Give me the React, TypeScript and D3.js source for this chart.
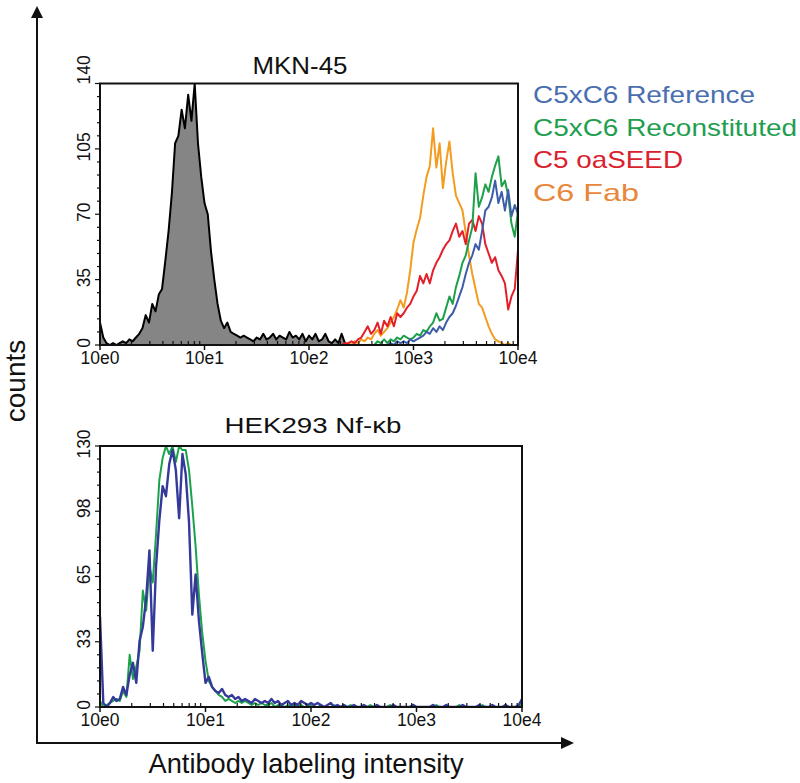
import React from "react";
import * as d3 from "d3";

// ---------- data (counts per channel; channel width = 1/32 decade) ----------
const BINS_PER_DECADE = 32;
const xTickLabels = ["10e0", "10e1", "10e2", "10e3", "10e4"];
const xTickValues = [1, 10, 100, 1000, 10000];

const mknYTicks = [0, 35, 70, 105, 140];
const hekYTicks = [0, 33, 65, 98, 130];

const legendNames = ["C5xC6 Reference", "C5xC6 Reconstituted", "C5 oaSEED", "C6 Fab"];
const legendColors = ["#4a6eb0", "#1f9e4f", "#d9222e", "#e8873a"];

// MKN-45
const mknUnstainedStart = 0;
const mknUnstained = [
  12, 4, 1, 0, 1, 0, 1, 2, 1, 3, 2, 4, 6, 9, 16, 12, 22, 18, 27, 30,
  45, 61, 81, 108, 112, 126, 116, 134, 120, 140, 108, 90, 76, 70, 50, 35, 22, 13, 9, 12,
  7, 6, 5, 4, 5, 4, 3, 2, 4, 3, 6, 3, 4, 6, 3, 5, 4, 3, 7, 4,
  5, 3, 6, 2, 5, 3, 6, 2, 3, 6, 2, 1, 3, 1, 6, 1, 0,
];
const mknFabStart = 75;
const mknFab = [
  0, 1, 0, 2, 1, 3, 2, 4, 3, 6, 8, 5, 7, 9, 12, 15, 19, 24, 20, 28,
  40, 55, 62, 68, 80, 90, 96, 116, 95, 108, 84, 98, 109, 92, 80, 76, 72, 60, 48, 38,
  30, 22, 20, 15, 10, 6, 3, 2, 1, 0, 1, 0, 0, 0,
];
const mknOaSeedStart = 74;
const mknOaSeed = [
  0, 1, 1, 2, 1, 3, 4, 7, 10, 6, 8, 12, 6, 13, 10, 15, 10, 17, 15, 17,
  20, 22, 26, 29, 37, 33, 38, 33, 40, 44, 47, 51, 54, 56, 61, 65, 58, 61, 54, 65,
  67, 61, 69, 65, 54, 49, 44, 47, 40, 37, 33, 19, 26, 30, 51,
];
const mknReconStart = 84;
const mknRecon = [
  0, 2, 1, 3, 1, 3, 2, 4, 3, 5, 4, 3, 4, 6, 5, 8, 7, 10, 12, 17,
  13, 14, 20, 26, 22, 31, 37, 44, 48, 56, 63, 92, 74, 79, 86, 82, 90, 96, 101, 85,
  88, 80, 65, 58, 72,
];
const mknRefStart = 88;
const mknRef = [
  0, 1, 0, 2, 1, 2, 1, 3, 2, 3, 4, 5, 7, 6, 9, 7, 10, 8, 12, 15,
  17, 21, 26, 31, 38, 44, 48, 54, 51, 61, 72, 74, 79, 88, 76, 82, 72, 83, 69, 75,
  70,
];

// HEK293 Nf-kb
const hekRefStart = 0;
const hekRef = [
  45, 2, 0, 2, 5, 3, 4, 10, 6, 16, 22, 12, 33, 40, 54, 78, 28, 70, 93, 110,
  105, 121, 128, 118, 94, 126, 116, 92, 46, 66, 43, 27, 12, 15, 10, 8, 7, 9, 6, 5,
  6, 4, 5, 3, 4, 3, 2, 4, 3, 2, 3, 2, 4, 2, 3, 1, 2, 3, 1, 2,
  1, 3, 2, 1, 2, 1, 2, 1, 0, 1, 2, 0, 1, 0, 1, 0, 0, 1, 0, 0,
  1, 0, 0, 0, 1, 0, 0, 0, 0, 1, 0, 0, 0, 0, 0, 1, 0, 0, 0, 0,
  0, 1, 0, 0, 0, 1, 0, 0, 0, 0, 1, 0, 0, 0, 0, 1, 0, 0, 0, 1,
  0, 0, 0, 1, 0, 0, 0, 1, 4,
];
const hekReconStart = 0;
const hekRecon = [
  3, 0, 1, 2, 3, 4, 3, 8, 5, 26, 14, 20, 28, 58, 48, 70, 62, 86, 113, 124,
  130, 126, 130, 122, 130, 128, 128, 118, 100, 80, 56, 37, 23, 13, 10, 8, 6, 5, 3, 4,
  3, 2, 3, 2, 3, 2, 1, 2, 1, 2, 1, 1, 2, 0, 1, 1, 0, 1, 0, 1,
  0, 1, 0, 0, 1, 0, 0, 1, 0, 0, 0, 1, 0, 0, 0, 0, 1, 0, 0, 0,
  0, 0, 1, 0, 0, 0, 0, 0, 1, 0, 0, 0, 0, 0, 0, 1, 0, 0, 0, 0,
  0, 0, 1, 0, 0, 0, 0, 0, 0, 1, 0, 0, 0, 0, 0, 0, 1, 0, 0, 0,
  0, 0, 0, 1, 0, 0, 0, 0, 2,
];

// ---------- helpers ----------
type Pt = [number, number];
const toPoints = (start: number, vals: number[]): Pt[] =>
  vals.map((v, i) => [Math.pow(10, (start + i) / BINS_PER_DECADE), v]);

const FONT = "'Liberation Sans', Arial, Helvetica, sans-serif";

interface Series {
  pts: Pt[];
  color: string;
  width: number;
  filled?: boolean;
}

function Panel(props: {
  id: string;
  left: number;
  right: number;
  top: number;
  bottom: number;
  yMax: number;
  yTicks: number[];
  series: Series[];
  topLabelUp?: boolean;
}) {
  const { id, left, right, top, bottom, yMax, yTicks, series, topLabelUp } = props;
  const x = d3.scaleLog().domain([1, 10000]).range([left, right]);
  const y = d3.scaleLinear().domain([0, yMax]).range([bottom, top]);
  const line = d3
    .line<Pt>()
    .x((d) => x(d[0]))
    .y((d) => y(Math.min(d[1], yMax)));
  const area = d3
    .area<Pt>()
    .x((d) => x(d[0]))
    .y0(y(0))
    .y1((d) => y(Math.min(d[1], yMax)));

  const minorX: number[] = [];
  for (let dec = 0; dec < 4; dec++) {
    for (let m = 2; m <= 9; m++) minorX.push(m * Math.pow(10, dec));
  }
  const step = yMax / 20;
  const minorY = d3.range(0, 21).map((i) => i * step);

  return (
    <g>
      <defs>
        <clipPath id={id}>
          <rect x={left} y={top} width={right - left} height={bottom - top} />
        </clipPath>
      </defs>
      <g clipPath={`url(#${id})`}>
        {series.map((s, i) =>
          s.filled ? (
            <g key={i}>
              <path d={area(s.pts) || ""} fill="#858585" stroke="none" />
              <path d={line(s.pts) || ""} fill="none" stroke={s.color} strokeWidth={s.width} strokeLinejoin="round" />
            </g>
          ) : (
            <path key={i} d={line(s.pts) || ""} fill="none" stroke={s.color} strokeWidth={s.width} strokeLinejoin="round" />
          )
        )}
      </g>
      {/* frame */}
      <rect x={left} y={top} width={right - left} height={bottom - top} fill="none" stroke="#111" strokeWidth={2} />
      {/* x ticks */}
      {minorX.map((v, i) => (
        <line key={"mx" + i} x1={x(v)} x2={x(v)} y1={bottom} y2={bottom - 4} stroke="#111" strokeWidth={1.2} />
      ))}
      {xTickValues.map((v, i) => (
        <g key={"xt" + i}>
          <line x1={x(v)} x2={x(v)} y1={bottom} y2={bottom + 5} stroke="#111" strokeWidth={1.5} />
          <text x={x(v)} y={bottom + 19} textAnchor="middle" fontSize={17.5} fontFamily={FONT} fill="#111">
            {xTickLabels[i]}
          </text>
        </g>
      ))}
      {/* y ticks */}
      {minorY.map((v, i) => (
        <line key={"my" + i} x1={left} x2={left - (i % 5 === 0 ? 5 : 3)} y1={y(v)} y2={y(v)} stroke="#111" strokeWidth={1.2} />
      ))}
      {yTicks.map((v, i) => {
        const isTop = i === yTicks.length - 1 && topLabelUp;
        return (
          <text
            key={"yt" + i}
            transform={`translate(${left - 10},${isTop ? y(v) + 1 : y(v) - 2}) rotate(-90)`}
            textAnchor={isTop ? "start" : "middle"}
            fontSize={17.5}
            fontFamily={FONT}
            fill="#111"
          >
            {v}
          </text>
        );
      })}
    </g>
  );
}

export default function App() {
  const upper: Series[] = [
    { pts: toPoints(mknUnstainedStart, mknUnstained), color: "#000", width: 2, filled: true },
    { pts: toPoints(mknFabStart, mknFab), color: "#f39c1f", width: 2 },
    { pts: toPoints(mknOaSeedStart, mknOaSeed), color: "#e3202a", width: 2 },
    { pts: toPoints(mknReconStart, mknRecon), color: "#1ea04a", width: 2 },
    { pts: toPoints(mknRefStart, mknRef), color: "#3d5daa", width: 2 },
  ];
  const lower: Series[] = [
    { pts: toPoints(hekReconStart, hekRecon), color: "#1ba34b", width: 2 },
    { pts: toPoints(hekRefStart, hekRef), color: "#34399a", width: 2.4 },
  ];
  const legendBaselines = [103, 135.5, 168, 200.5];
  const legendWidths = [222, 264, 150, 106];

  return (
    <svg
      width={800}
      height={783}
      viewBox="0 0 800 783"
      style={{ position: "absolute", left: 0, top: 0, background: "#fff" }}
    >
      <rect x={0} y={0} width={800} height={783} fill="#fff" />
      {/* big axes with arrows */}
      <line x1={37} y1={14} x2={37} y2={743} stroke="#111" strokeWidth={2} />
      <polygon points="37,6 31,18 43,18" fill="#111" />
      <line x1={36} y1={743} x2={564} y2={743} stroke="#111" strokeWidth={2} />
      <polygon points="574,743 561,737 561,749" fill="#111" />

      <text
        transform="translate(25,381) rotate(-90)"
        textAnchor="middle"
        fontSize={28}
        fontFamily={FONT}
        fill="#111"
      >
        counts
      </text>
      <text
        x={306}
        y={773}
        textAnchor="middle"
        fontSize={28}
        fontFamily={FONT}
        fill="#111"
        textLength={315}
        lengthAdjust="spacingAndGlyphs"
      >
        Antibody labeling intensity
      </text>

      {/* titles */}
      <text x={300} y={74} textAnchor="middle" fontSize={23} fontFamily={FONT} fill="#111" textLength={95} lengthAdjust="spacingAndGlyphs">
        MKN-45
      </text>
      <text x={313} y={433} textAnchor="middle" fontSize={22} fontFamily={FONT} fill="#111" textLength={177} lengthAdjust="spacingAndGlyphs">
        HEK293 Nf-κb
      </text>

      <Panel id="clipA" left={100} right={518} top={83.5} bottom={345} yMax={140} yTicks={mknYTicks} series={upper} topLabelUp />
      <Panel id="clipB" left={100} right={522} top={446} bottom={707} yMax={130} yTicks={hekYTicks} series={lower} />

      {/* legend */}
      {legendNames.map((n, i) => (
        <text
          key={n}
          x={533}
          y={legendBaselines[i]}
          fontSize={24}
          fontFamily={FONT}
          fill={legendColors[i]}
          textLength={legendWidths[i]}
          lengthAdjust="spacingAndGlyphs"
        >
          {n}
        </text>
      ))}
    </svg>
  );
}
